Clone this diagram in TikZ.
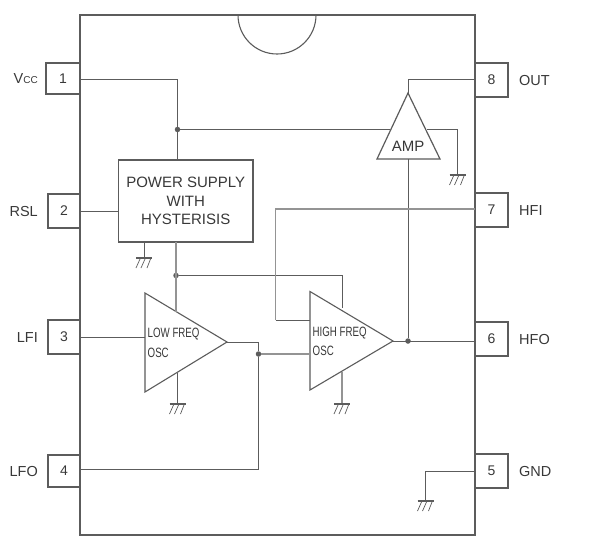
\documentclass[tikz,border=0pt]{standalone}
\usepackage{fontspec}
\setmainfont{Liberation Sans}
\definecolor{icdark}{gray}{0.36}
\definecolor{icpale}{gray}{0.58}
\definecolor{ictext}{gray}{0.22}
\tikzset{
  pinbox/.style={draw=icdark,line width=1.6pt,inner sep=0pt,text=ictext,font=\fontsize{14}{16}\selectfont},
  pinname/.style={inner sep=0pt,text=ictext,font=\fontsize{14.5}{16}\selectfont},
  wire/.style={draw=icdark,line width=1pt},
  palewire/.style={draw=icpale,line width=1.1pt},
  dotnode/.style={circle,fill=icdark,inner sep=0pt,minimum size=5.5pt},
  gnd/.pic={
    \draw[icdark,line width=1.6pt] (-8,0) -- (8,0);
    \foreach \t\b in {-4/-8,1/-3,6.5/3}{
      \draw[icdark,line width=0.7pt] (\t,1) -- (\b,10);
    }
  }
}
\begin{document}
\begin{tikzpicture}[x=1pt,y=-1pt]
    \useasboundingbox (0,0) rectangle (591,543);

    % pins on the left
    \foreach \n\y\w\h\l in {
        1/78.5/34/31/V{\fontsize{10}{12}\selectfont CC},
        2/211/32/34/RSL,
        3/337/32/34/LFI,
        4/471/32/32/LFO}{
      \node[pinbox,minimum width=\w pt,minimum height=\h pt] (pin\n) at ({80-\w/2},\y) {\n};
      \node[pinname,anchor=east] (name\n) at (38,{\y+0.5}) {\l};
    }
    % pins on the right
    \foreach \n\y\l in {
        8/80/OUT,
        7/210/HFI,
        6/339/HFO,
        5/471/GND}{
      \node[pinbox,minimum width=33pt,minimum height=34pt] (pin\n) at (491.5,\y) {\n};
      \node[pinname,anchor=west] (name\n) at (519,{\y+0.5}) {\l};
    }

    % package and notch
    \draw[icdark,line width=1.7pt,fill=white] (80,15) rectangle (475,535);
    \draw[icdark,line width=1.1pt] (238,15) arc (180:0:39);

    % blocks
    \node[draw=icdark,line width=1.6pt,minimum width=134.5pt,minimum height=82pt,inner sep=0pt,align=center,text=ictext,
      font=\fontsize{15}{18.5}\selectfont] (supply) at (185.75,201)
      {POWER SUPPLY\\WITH\\HYSTERISIS};

    \coordinate (ampT) at (408,93);
    \coordinate (ampL) at (377,159);
    \coordinate (ampR) at (440,159);
    \draw[icdark,line width=1.2pt] (ampT) -- (ampL) -- (ampR) -- cycle;
    \node[inner sep=0pt,text=ictext,font=\fontsize{15}{16}\selectfont] (amplabel) at (408,146) {AMP};

    \coordinate (lowT) at (145,293);
    \coordinate (lowB) at (145,392);
    \coordinate (lowO) at (227,342);
    \draw[icdark,line width=1.1pt] (lowT) -- (lowB) -- (lowO) -- cycle;
    \node[anchor=west,inner sep=0pt,text=ictext,font=\fontsize{13.5}{16}\selectfont] (lowname) at (147.5,334.5) {\scalebox{.72}[1]{LOW FREQ}};
    \node[anchor=west,inner sep=0pt,text=ictext,font=\fontsize{13.5}{16}\selectfont] (lowosc) at (147.5,353) {\scalebox{.72}[1]{OSC}};

    \coordinate (highT) at (310,291.5);
    \coordinate (highB) at (310,390);
    \coordinate (highO) at (393,341);
    \draw[icdark,line width=1.1pt] (highT) -- (highB) -- (highO) -- cycle;
    \node[anchor=west,inner sep=0pt,text=ictext,font=\fontsize{13.5}{16}\selectfont] (highname) at (312.5,333) {\scalebox{.72}[1]{HIGH FREQ}};
    \node[anchor=west,inner sep=0pt,text=ictext,font=\fontsize{13.5}{16}\selectfont] (highosc) at (312.5,351) {\scalebox{.72}[1]{OSC}};

    % wires
    \coordinate (w1) at (80,79);
    \coordinate (w2) at (80,211);
    \coordinate (w3) at (80,337);
    \coordinate (w4) at (80,469);
    \coordinate (w8) at (475,79);
    \coordinate (w7) at (475,209);
    \coordinate (w6) at (475,341);
    \coordinate (w5) at (475,471);

    \node[dotnode] (vccdot) at (177.5,129.5) {};
    \node[dotnode] (supplydot) at (176,275.5) {};
    \node[dotnode] (lowdot) at (258.5,354) {};
    \node[dotnode] (highdot) at (408,341) {};

    \coordinate (supplyin) at (177.5,160);
    \coordinate (supplyout) at (176,242);
    \coordinate (supplygnd) at (144,242);
    \coordinate (ampinL) at (390,129.5);
    \coordinate (ampinR) at (427,129.5);
    \coordinate (ampgnd) at (457.5,175);
    \coordinate (ampbase) at (408,159);
    \coordinate (lowtop) at (176,312);
    \coordinate (lowin) at (145,337);
    \coordinate (lowbot) at (177.5,373);
    \coordinate (lowgnd) at (177.5,404);
    \coordinate (hightop) at (342,308);
    \coordinate (hfibend) at (275.5,209);
    \coordinate (hficorner) at (275.5,320);
    \coordinate (highin) at (310,320);
    \coordinate (highosc2) at (310,354);
    \coordinate (highbot) at (342,372);
    \coordinate (highgnd) at (342,404);
    \coordinate (supplygndend) at (144,258);
    \coordinate (gnd5) at (425.5,501);

    \draw[wire] (w1) -| (supplyin);
    \draw[wire] (vccdot) -- (ampinL);
    \draw[wire] (ampinR) -| (ampgnd);
    \draw[wire] (w2) -- (w2 -| supply.west);
    \draw[wire] (w3) -- (lowin);
    \draw[wire] (w8) -| (ampT);
    \draw[wire] (ampbase) -- (highdot);
    \draw[wire] (highO) -- (w6);
    \draw[wire] (lowO) -| (lowdot);
    \draw[wire] (lowdot) |- (w4);
    \draw[wire] (w5) -| (gnd5);
    \draw[palewire] (supplyout) -- (lowtop);
    \draw[wire] (supplydot) -| (hightop);
    \draw[palewire] (w7) -- (hfibend) -- (hficorner);
    \draw[wire] (hficorner) -- (highin);
    \draw[palewire] (lowdot) -- (highosc2);
    \draw[wire] (supplygnd) -- (supplygndend);
    \draw[wire] (lowbot) -- (lowgnd);
    \draw[palewire] (highbot) -- (highgnd);

    % grounds
    \foreach \g in {supplygndend,ampgnd,lowgnd,highgnd,gnd5}{
      \pic at (\g) {gnd};
    }
  \end{tikzpicture}
\end{document}
